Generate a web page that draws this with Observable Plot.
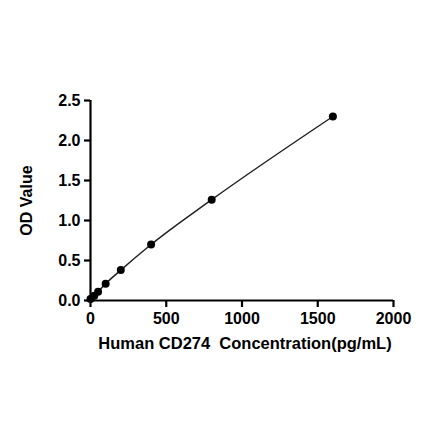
<!DOCTYPE html>
<html>
<head>
<meta charset="utf-8">
<script src="https://cdn.jsdelivr.net/npm/d3@7"></script>
<script src="https://cdn.jsdelivr.net/npm/@observablehq/plot@0.6"></script>
<style>
  html, body { margin: 0; padding: 0; background: #fff; }
</style>
</head>
<body>
<div id="chart"></div>
<script>
const concentration = [0, 25, 50, 100, 200, 400, 800, 1600];
const odValue = [0.02, 0.06, 0.11, 0.21, 0.38, 0.70, 1.26, 2.30];
const xTicks = [0, 500, 1000, 1500, 2000];
const yTicks = [0, 0.5, 1.0, 1.5, 2.0, 2.5];
const xLabel = "Human CD274  Concentration(pg/mL)";
const yLabel = "OD Value";

const data = concentration.map((c, i) => ({ c, od: odValue[i] }));

const chart = Plot.plot({
  width: 440,
  height: 441,
  marginLeft: 90,
  marginRight: 47,
  marginTop: 100,
  marginBottom: 141,
  style: { fontFamily: "Liberation Sans, Arial, sans-serif", fontWeight: "bold", fontSize: "16px", color: "#000", background: "#fff" },
  x: { domain: [0, 2000] },
  y: { domain: [0, 2.5] },
  marks: [
    Plot.axisX({ ticks: xTicks, tickSize: 7, tickPadding: 5, strokeWidth: 2.2, label: null, fontSize: 16, tickFormat: d3.format("d") }),
    Plot.axisY({ ticks: yTicks, tickSize: 6, tickPadding: 4, strokeWidth: 2.2, label: null, fontSize: 16, tickFormat: d3.format(".1f") }),
    Plot.ruleY([0], { stroke: "#000", strokeWidth: 2.2 }),
    Plot.ruleX([0], { stroke: "#000", strokeWidth: 2.2 }),
    Plot.line(data, { x: "c", y: "od", curve: "monotone-x", stroke: "#222", strokeWidth: 1.5 }),
    Plot.dot(data, { x: "c", y: "od", r: 4, fill: "#000", stroke: "none" }),
    Plot.text([yLabel], { frameAnchor: "left", textAnchor: "middle", rotate: -90, dx: -64, fontSize: 16, fontWeight: "bold", fill: "#000" }),
    Plot.text([xLabel], { frameAnchor: "bottom", textAnchor: "middle", dy: 48, dx: 3, fontSize: 16.5, fontWeight: "bold", fill: "#000" })
  ]
});
document.getElementById("chart").appendChild(chart);
</script>
</body>
</html>
